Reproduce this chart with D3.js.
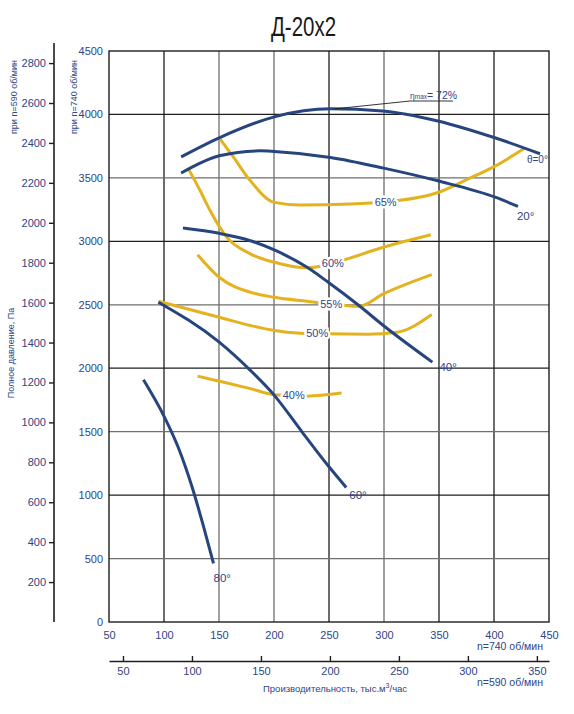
<!DOCTYPE html>
<html>
<head>
<meta charset="utf-8">
<script src="https://cdn.jsdelivr.net/npm/d3@7"></script>
<style>
  body { margin: 0; background: #fff; }
  text { font-family: "Liberation Sans", Arial, sans-serif; fill: #2e4585; }
  .halo { paint-order: stroke; stroke: #fff; stroke-width: 5px; stroke-linejoin: round; }
</style>
</head>
<body>
<div id="chart"></div>
<script>
// flow, thousand m3/h at 740 rpm ; total pressure, Pa at 740 rpm
const angleNames = ["θ=0°", "20°", "40°", "60°", "80°"];
const blade0 = [[115.6, 3666], [150.2, 3816], [200.3, 3981], [251.4, 4044], [298.7, 4028], [348.9, 3949], [400.8, 3816], [441.8, 3690]];
const blade20 = [[115.6, 3538], [150.2, 3674], [187.6, 3713], [200.3, 3708], [251.4, 3661], [299.7, 3577], [348.9, 3477], [401.7, 3346], [421.8, 3275]];
const blade40 = [[117.2, 3105], [150.2, 3063], [178.5, 3005], [200.3, 2932], [230.1, 2795], [249.3, 2677], [277.2, 2494], [299.4, 2337], [344.0, 2048]];
const blade60 = [[94.9, 2520], [150.2, 2205], [178.5, 1983], [200.3, 1786], [225.6, 1497], [248.9, 1235], [265.7, 1060]];
const blade80 = [[81.3, 1909], [100.4, 1615], [112.9, 1377], [125.6, 1062], [135.6, 763], [145.0, 462]];

const effNames = ["65%", "60%", "55%", "50%", "40%"];
const eff65 = [[150.2, 3816], [163.3, 3661], [178.5, 3477], [200.3, 3307], [224, 3286], [269.6, 3294], [301.5, 3312], [349.1, 3385], [372.8, 3477], [401.4, 3595], [428.1, 3735]];
const eff60 = [[122.3, 3569], [132.9, 3399], [142, 3241], [157.2, 3031], [178.5, 2901], [200.3, 2835], [230.1, 2791], [253.5, 2827], [263.5, 2853], [299.4, 2953], [342.5, 3052]];
const eff55 = [[130.5, 2895], [150.2, 2717], [178.5, 2599], [200.3, 2559], [230.1, 2528], [260.5, 2499], [277.2, 2488], [299.4, 2586], [343.4, 2738]];
const eff50 = [[94.9, 2528], [150.2, 2402], [178.5, 2337], [200.3, 2297], [224, 2276], [248.4, 2271], [284.8, 2268], [312.1, 2284], [343.4, 2423]];
const eff40 = [[130.5, 1938], [150.2, 1898], [178.5, 1839], [200.3, 1791], [230.1, 1780], [261.4, 1804]];
const effLabelFlow = [301.5, 253.5, 252, 239.3, 217.9];

const peak = [255, 4044];
const etaMax = "72%";

const flowTicks740 = [50, 100, 150, 200, 250, 300, 350, 400, 450];
const flowTicks590 = [50, 100, 150, 200, 250, 300, 350];
const pressTicks740 = [0, 500, 1000, 1500, 2000, 2500, 3000, 3500, 4000, 4500];
const pressTicks590 = [200, 400, 600, 800, 1000, 1200, 1400, 1600, 1800, 2000, 2200, 2400, 2600, 2800];

function drawChart() {
  const W = 574, H = 714;
  const margin = { top: 51, right: 25, bottom: 92, left: 109 };
  const blue = "#26457f", yellow = "#e5b21f";
  const k = 590 / 740;
  const fmt = d3.format("d");

  const svg = d3.select("#chart").append("svg")
    .attr("width", W).attr("height", H);

  const x = d3.scaleLinear().domain([50, 450]).range([margin.left, W - margin.right]);
  const y = d3.scaleLinear().domain([0, 4500]).range([H - margin.bottom, margin.top]);
  const x590 = d3.scaleLinear().domain([50 * k, 450 * k]).range(x.range());
  const y590 = d3.scaleLinear().domain([0, 4500 * k * k]).range(y.range());

  // grid
  const darkX = [100, 250, 350, 400];
  svg.append("g").selectAll("line")
    .data(flowTicks740.slice(1, -1))
    .join("line")
    .attr("x1", d => x(d)).attr("x2", d => x(d))
    .attr("y1", y(0)).attr("y2", y(4500))
    .attr("stroke", d => darkX.includes(d) ? "#1e1e1e" : "#6f6f6f")
    .attr("stroke-width", 1.3);
  svg.append("g").selectAll("line")
    .data(pressTicks740.slice(1, -1))
    .join("line")
    .attr("x1", x(50)).attr("x2", x(450))
    .attr("y1", d => y(d)).attr("y2", d => y(d))
    .attr("stroke", d => d % 1000 === 0 ? "#1e1e1e" : "#6f6f6f")
    .attr("stroke-width", 1.3);
  svg.append("rect")
    .attr("x", x(50)).attr("y", y(4500))
    .attr("width", x(450) - x(50)).attr("height", y(0) - y(4500))
    .attr("fill", "none").attr("stroke", "#1e1e1e").attr("stroke-width", 1.4);

  // axes
  const top = svg.append("g")
    .attr("transform", `translate(0,${y(0)})`)
    .call(d3.axisBottom(x).tickValues(flowTicks740).tickFormat(fmt).tickSize(0).tickPadding(9.5));
  top.select(".domain").remove();

  const low = svg.append("g")
    .attr("transform", `translate(0,661)`)
    .call(d3.axisBottom(x590).tickValues(flowTicks590).tickFormat(fmt).tickSize(-5).tickSizeOuter(0).tickPadding(6));
  low.select(".domain").attr("stroke", "#1e1e1e").attr("stroke-width", 1.6);
  low.selectAll(".tick line").attr("stroke", "#1e1e1e").attr("stroke-width", 1.4);

  const left = svg.append("g")
    .attr("transform", `translate(${margin.left},0)`)
    .call(d3.axisLeft(y).tickValues(pressTicks740).tickFormat(fmt).tickSize(0).tickPadding(6));
  left.select(".domain").remove();

  const left2 = svg.append("g")
    .attr("transform", "translate(54,0)")
    .call(d3.axisLeft(y590).tickValues(pressTicks590).tickFormat(fmt).tickSize(5).tickPadding(3));
  left2.select(".domain").remove();
  left2.selectAll(".tick line").attr("stroke", "#1e1e1e").attr("stroke-width", 1.4);
  svg.append("line")
    .attr("x1", 54).attr("x2", 54).attr("y1", 43).attr("y2", y(0))
    .attr("stroke", "#1e1e1e").attr("stroke-width", 1.6);

  svg.selectAll(".tick text")
    .attr("font-family", "Liberation Sans, Arial, sans-serif")
    .attr("font-size", 11).attr("fill", "#2e4585");

  // curves
  const line = d3.line().x(d => x(d[0])).y(d => y(d[1])).curve(d3.curveMonotoneX);
  const effSeries = [eff65, eff60, eff55, eff50, eff40];
  const bladeSeries = [blade0, blade20, blade40, blade60, blade80];

  svg.append("g").selectAll("path")
    .data(effSeries).join("path")
    .attr("d", line).attr("fill", "none")
    .attr("stroke", yellow).attr("stroke-width", 3);

  svg.append("g").selectAll("path")
    .data(bladeSeries).join("path")
    .attr("d", line).attr("fill", "none")
    .attr("stroke", blue).attr("stroke-width", 3);

  // efficiency labels sit on their curves
  const onCurve = (pts, q) => {
    for (let i = 1; i < pts.length; i++) {
      if (q <= pts[i][0]) {
        const t = (q - pts[i - 1][0]) / (pts[i][0] - pts[i - 1][0]);
        return pts[i - 1][1] + t * (pts[i][1] - pts[i - 1][1]);
      }
    }
    return pts[pts.length - 1][1];
  };
  svg.append("g").selectAll("text")
    .data(effNames).join("text")
    .attr("class", "halo")
    .attr("x", (d, i) => x(effLabelFlow[i]))
    .attr("y", (d, i) => y(onCurve(effSeries[i], effLabelFlow[i])))
    .attr("dy", "0.35em")
    .attr("text-anchor", "middle")
    .attr("font-size", 11)
    .text(d => d);

  // blade angle labels, offset from the curve end
  const offs = [[-13, 9], [-1, 14], [7, 9], [3, 12], [0, 19]];
  svg.append("g").selectAll("text")
    .data(angleNames).join("text")
    .attr("x", (d, i) => x(bladeSeries[i][bladeSeries[i].length - 1][0]) + offs[i][0])
    .attr("y", (d, i) => y(bladeSeries[i][bladeSeries[i].length - 1][1]) + offs[i][1])
    .attr("font-size", (d, i) => i === 0 ? 10 : 11.5)
    .text(d => d);

  // eta max note
  const px = x(peak[0]), py = y(peak[1]);
  svg.append("path")
    .attr("d", `M${px},${py}L410,101H453`)
    .attr("fill", "none").attr("stroke", "#1e1e1e").attr("stroke-width", 0.9);
  const eta = svg.append("text").attr("x", 410).attr("y", 99);
  eta.append("tspan").attr("font-size", 8.5).text("η");
  eta.append("tspan").attr("font-size", 6.5).text("max");
  eta.append("tspan").attr("font-size", 10.5).text("= " + etaMax);

  // titles
  svg.append("text")
    .attr("x", 271).attr("y", 36)
    .attr("textLength", 65).attr("lengthAdjust", "spacingAndGlyphs")
    .attr("font-size", 27)
    .style("fill", "#1a1a1a")
    .text("Д-20х2");

  const rotLabel = (cx, cy, txt) => svg.append("text")
    .attr("transform", `translate(${cx},${cy}) rotate(-90)`)
    .attr("text-anchor", "middle")
    .attr("dy", "0.35em")
    .attr("font-size", 9)
    .text(txt);
  rotLabel(14, 97, "при n=590 об/мин");
  rotLabel(73.5, 97, "при n=740 об/мин");
  rotLabel(11, 353, "Полное давление,  Па");

  svg.append("text").attr("x", 543).attr("y", 650)
    .attr("text-anchor", "end").attr("font-size", 10.5).text("n=740 об/мин");
  svg.append("text").attr("x", 543).attr("y", 686)
    .attr("text-anchor", "end").attr("font-size", 10.5).text("n=590 об/мин");
  const prod = svg.append("text").attr("x", 263).attr("y", 692).attr("font-size", 9.5);
  prod.append("tspan").text("Производительность, тыс.м");
  prod.append("tspan").attr("dy", -4).attr("font-size", 7).text("3");
  prod.append("tspan").attr("dy", 4).text("/час");
}

drawChart();
</script>
</body>
</html>
